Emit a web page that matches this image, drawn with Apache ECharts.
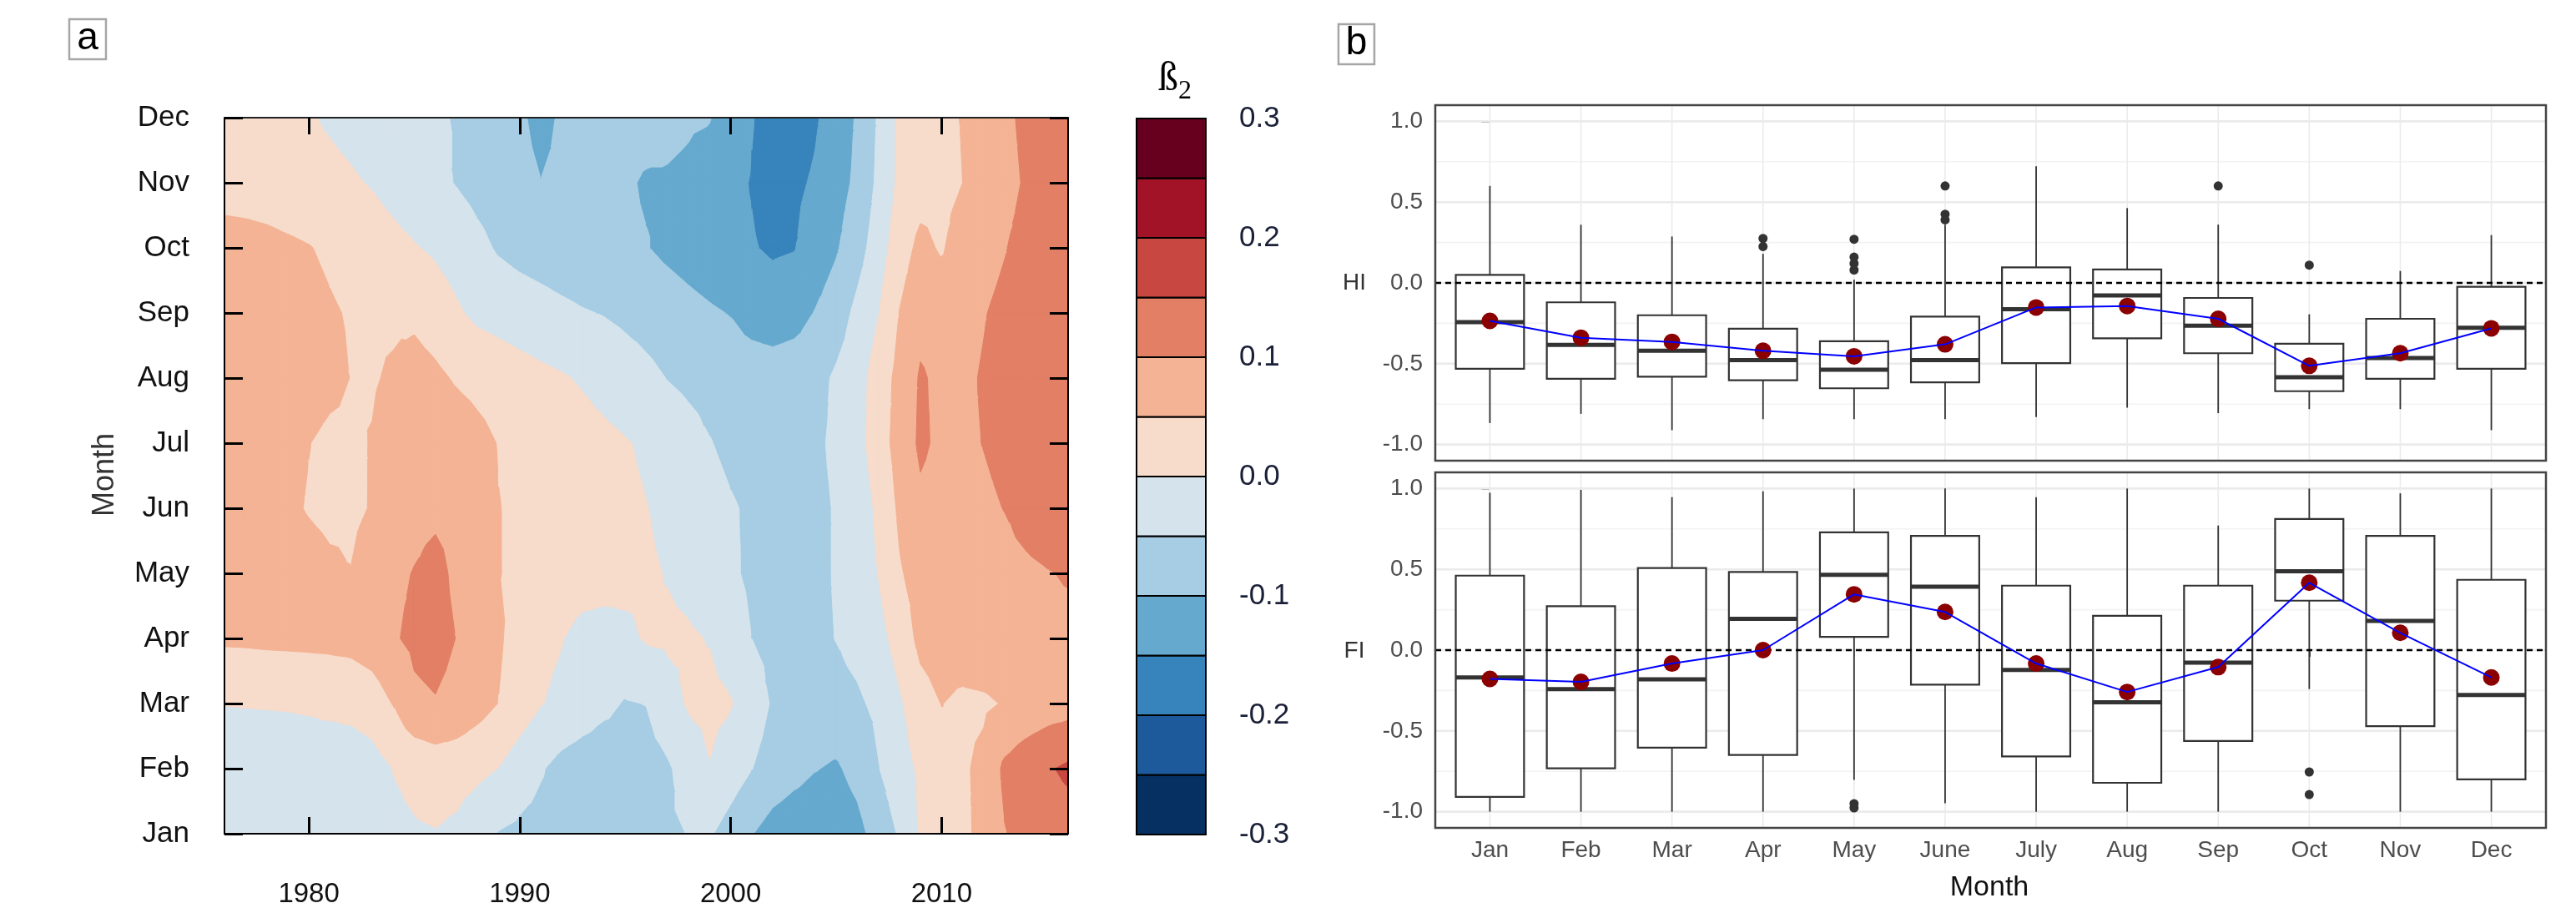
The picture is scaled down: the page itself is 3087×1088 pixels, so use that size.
<!DOCTYPE html>
<html><head><meta charset="utf-8">
<script src="https://cdn.jsdelivr.net/npm/echarts@6/dist/echarts.min.js"></script>
<style>html,body{margin:0;padding:0;background:#fff}#c{width:3087px;height:1088px}</style>
</head><body><div id="c"></div>
<script>
// ---------- Panel a data: beta2 by month (rows) and year (columns) ----------
const years = [1976,1977,1978,1979,1980,1981,1982,1983,1984,1985,1986,1987,1988,1989,1990,1991,1992,1993,1994,1995,1996,1997,1998,1999,2000,2001,2002,2003,2004,2005,2006,2007,2008,2009,2010,2011,2012,2013,2014,2015,2016];
const monthNames = ['Jan','Feb','Mar','Apr','May','Jun','Jul','Aug','Sep','Oct','Nov','Dec'];
const b2_Jan = [-0.025,-0.025,-0.025,-0.025,-0.024,-0.022,-0.019,-0.015,-0.01,-0.005, -0.002,-0.01,-0.035,-0.052,-0.06,-0.065,-0.07,-0.075,-0.075,-0.072, -0.065,-0.056,-0.049,-0.045,-0.07,-0.098,-0.12,-0.13,-0.135,-0.13, -0.115,-0.08,-0.045,0.005,0.025,0.042,0.06,0.098,0.115,0.125,0.13];
const b2_Feb = [-0.025,-0.027,-0.028,-0.028,-0.025,-0.028,-0.03,-0.02,0.001,0.012, 0.022,0.02,0.012,-0.001,-0.025,-0.046,-0.065,-0.075,-0.078,-0.075, -0.068,-0.056,-0.03,-0.002,-0.025,-0.049,-0.07,-0.085,-0.098,-0.106, -0.085,-0.052,-0.02,0.008,0.03,0.043,0.062,0.11,0.13,0.145,0.158];
const b2_Mar = [0.001,0.002,0.003,0.004,0.006,0.01,0.015,0.025,0.052,0.09, 0.097,0.085,0.068,0.049,0.025,0.002,-0.012,-0.025,-0.04,-0.053, -0.049,-0.02,0.005,0.012,0.003,-0.025,-0.055,-0.065,-0.068,-0.065, -0.057,-0.04,-0.007,0.03,0.051,0.04,0.043,0.053,0.065,0.075,0.08];
const b2_Apr = [0.057,0.058,0.06,0.061,0.062,0.063,0.065,0.075,0.095,0.11, 0.118,0.099,0.075,0.056,0.03,0.013,0.002,-0.018,-0.02,-0.01, 0.004,0.007,0.005,-0.002,-0.025,-0.05,-0.062,-0.067,-0.06,-0.049, -0.036,-0.018,0.02,0.063,0.075,0.078,0.082,0.085,0.088,0.09,0.09];
const b2_May = [0.08,0.08,0.078,0.074,0.068,0.058,0.051,0.068,0.09,0.102, 0.115,0.09,0.07,0.051,0.044,0.038,0.032,0.026,0.02,0.013, 0.006,-0.002,-0.012,-0.025,-0.043,-0.058,-0.064,-0.066,-0.06,-0.047, -0.024,0.001,0.045,0.07,0.075,0.078,0.082,0.087,0.092,0.098,0.103];
const b2_Jun = [0.085,0.08,0.07,0.058,0.047,0.04,0.043,0.052,0.07,0.085, 0.09,0.085,0.07,0.051,0.043,0.036,0.029,0.022,0.015,0.008, 0.001,-0.01,-0.022,-0.034,-0.046,-0.056,-0.063,-0.064,-0.06,-0.047, -0.025,0.008,0.058,0.09,0.08,0.086,0.093,0.101,0.115,0.125,0.13];
const b2_Jul = [0.08,0.078,0.072,0.062,0.051,0.04,0.042,0.052,0.07,0.08, 0.085,0.08,0.065,0.048,0.04,0.033,0.026,0.018,0.011,0.003, -0.006,-0.02,-0.033,-0.048,-0.06,-0.068,-0.072,-0.068,-0.058,-0.042, -0.018,0.025,0.07,0.108,0.09,0.093,0.101,0.11,0.12,0.128,0.135];
const b2_Aug = [0.085,0.085,0.082,0.078,0.072,0.062,0.049,0.046,0.056,0.07, 0.06,0.045,0.035,0.027,0.019,0.011,0.004,-0.005,-0.016,-0.027, -0.039,-0.051,-0.06,-0.066,-0.072,-0.075,-0.077,-0.073,-0.066,-0.043, -0.02,0.022,0.065,0.105,0.09,0.093,0.103,0.115,0.125,0.13,0.135];
const b2_Sep = [0.08,0.08,0.078,0.072,0.065,0.055,0.046,0.043,0.042,0.04, 0.025,0.006,-0.01,-0.017,-0.025,-0.032,-0.04,-0.047,-0.052,-0.06, -0.067,-0.075,-0.085,-0.094,-0.102,-0.118,-0.125,-0.118,-0.098,-0.075, -0.038,-0.002,0.051,0.085,0.08,0.088,0.098,0.11,0.12,0.128,0.132];
const b2_Oct = [0.07,0.068,0.064,0.058,0.052,0.042,0.032,0.022,0.013,0.003, -0.007,-0.02,-0.038,-0.055,-0.065,-0.072,-0.078,-0.083,-0.088,-0.093, -0.098,-0.11,-0.12,-0.13,-0.14,-0.147,-0.156,-0.152,-0.13,-0.105, -0.07,-0.025,0.028,0.062,0.045,0.075,0.085,0.098,0.115,0.125,0.13];
const b2_Nov = [0.03,0.028,0.025,0.02,0.016,0.011,0.005,-0.003,-0.015,-0.028, -0.04,-0.052,-0.065,-0.075,-0.085,-0.099,-0.09,-0.088,-0.09,-0.095, -0.104,-0.104,-0.108,-0.12,-0.14,-0.152,-0.165,-0.158,-0.145,-0.12, -0.09,-0.04,0.01,0.03,0.035,0.05,0.065,0.085,0.105,0.12,0.13];
const b2_Dec = [0.035,0.03,0.02,0.012,0.003,-0.005,-0.013,-0.021,-0.029,-0.037, -0.046,-0.052,-0.07,-0.085,-0.092,-0.115,-0.093,-0.09,-0.085,-0.085, -0.085,-0.09,-0.095,-0.098,-0.125,-0.148,-0.165,-0.17,-0.155,-0.13, -0.095,-0.045,0.01,0.025,0.04,0.052,0.07,0.09,0.11,0.125,0.135];
const yearTicks = [1980,1990,2000,2010];
const levels = [-0.3,-0.25,-0.2,-0.15,-0.1,-0.05,0,0.05,0.1,0.15,0.2,0.25,0.3];
const levelLabels = [-0.3,-0.2,-0.1,0,0.1,0.2,0.3];
const bandColors = ['#053061','#1c5a9b','#3783bb','#66a9cf','#a6cde3','#d5e3ec','#f7dbcb','#f4b394','#e27f65','#c94741','#a21328','#67001f'];

// ---------- Panel b data ----------
const boxMonths = ['Jan','Feb','Mar','Apr','May','June','July','Aug','Sep','Oct','Nov','Dec'];
const hiLow  = [-0.867,-0.81,-0.911,-0.843,-0.843,-0.843,-0.83,-0.772,-0.806,-0.781,-0.781,-0.911];
const hiQ1   = [-0.531,-0.593,-0.58,-0.602,-0.652,-0.615,-0.496,-0.343,-0.435,-0.67,-0.593,-0.531];
const hiMed  = [-0.243,-0.383,-0.42,-0.478,-0.537,-0.478,-0.163,-0.078,-0.265,-0.583,-0.465,-0.278];
const hiQ3   = [0.05,-0.12,-0.2,-0.283,-0.361,-0.209,0.096,0.083,-0.093,-0.376,-0.222,-0.024];
const hiHigh = [0.60,0.36,0.287,0.18,0.02,0.36,0.722,0.463,0.361,-0.194,0.074,0.296];
const hiMean = [-0.235,-0.339,-0.365,-0.42,-0.454,-0.38,-0.152,-0.143,-0.222,-0.513,-0.435,-0.281];
const hiOutliers = [[3,0.275],[3,0.225],[4,0.27],[4,0.16],[4,0.12],[4,0.08],[5,0.6],[5,0.425],[5,0.39],[8,0.6],[9,0.11]];
const fiLow  = [-1.0,-1.0,-1.0,-1.0,-0.803,-0.948,-1.0,-1.0,-1.0,-0.241,-1.0,-1.0];
const fiQ1   = [-0.908,-0.731,-0.604,-0.649,0.082,-0.214,-0.658,-0.821,-0.562,0.306,-0.471,-0.8];
const fiMed  = [-0.169,-0.241,-0.181,0.194,0.466,0.393,-0.123,-0.323,-0.078,0.488,0.181,-0.277];
const fiQ3   = [0.461,0.272,0.508,0.484,0.729,0.707,0.399,0.212,0.399,0.811,0.707,0.435];
const fiHigh = [0.974,0.992,0.947,0.983,1.0,1.0,0.947,1.0,0.771,1.0,0.97,1.0];
const fiMean = [-0.178,-0.196,-0.083,0.0,0.345,0.236,-0.083,-0.259,-0.105,0.417,0.107,-0.169];
const fiOutliers = [[4,-0.95],[4,-0.976],[9,-0.754],[9,-0.894]];
const yTickVals = [-1,-0.5,0,0.5,1];
const yMinorVals = [-0.75,-0.25,0.25,0.75];

// ---------- helpers ----------
const fontReg = "'Liberation Sans', Arial, Helvetica, sans-serif";
const fontNarrow = "'Liberation Sans Narrow','Arial Narrow','Liberation Sans',Arial,sans-serif";
const valueGrid = [b2_Jan,b2_Feb,b2_Mar,b2_Apr,b2_May,b2_Jun,b2_Jul,b2_Aug,b2_Sep,b2_Oct,b2_Nov,b2_Dec];

function clip(poly, t, keepAbove) {
  const out = [];
  for (let a = 0; a < poly.length; a++) {
    const P = poly[a], Q = poly[(a + 1) % poly.length];
    const fp = keepAbove ? P[2] - t : t - P[2];
    const fq = keepAbove ? Q[2] - t : t - Q[2];
    if (fp >= 0) out.push(P);
    if ((fp >= 0) !== (fq >= 0)) {
      const r = fp / (fp - fq);
      out.push([P[0] + r * (Q[0] - P[0]), P[1] + r * (Q[1] - P[1]), P[2] + r * (Q[2] - P[2])]);
    }
  }
  return out;
}
const cellData = [];
for (let j = 0; j < monthNames.length - 1; j++) for (let i = 0; i < years.length - 1; i++) cellData.push([i, j]);

function renderCell(params, api) {
  const i = api.value(0), j = api.value(1);
  const pt = (ii, jj) => { const c = api.coord([years[ii], jj + 1]); return [c[0], c[1], valueGrid[jj][ii]]; };
  const a = pt(i, j), b = pt(i + 1, j), c = pt(i + 1, j + 1), d = pt(i, j + 1);
  const m = [(a[0] + c[0]) / 2, (a[1] + c[1]) / 2, (a[2] + b[2] + c[2] + d[2]) / 4];
  const tris = [[a, b, m], [b, c, m], [c, d, m], [d, a, m]];
  const children = [];
  const nb = bandColors.length;
  for (const t of tris) {
    const vmin = Math.min(t[0][2], t[1][2], t[2][2]), vmax = Math.max(t[0][2], t[1][2], t[2][2]);
    for (let k = 0; k < nb; k++) {
      const lo = levels[k], hi = levels[k + 1];
      if ((k > 0 && vmax < lo) || (k < nb - 1 && vmin > hi)) continue;
      let poly = t;
      if (k > 0) poly = clip(poly, lo, true);
      if (poly.length < 3) continue;
      if (k < nb - 1) poly = clip(poly, hi, false);
      if (poly.length < 3) continue;
      children.push({ type: 'polygon', shape: { points: poly.map(p => [p[0], p[1]]) },
        style: { fill: bandColors[k], stroke: bandColors[k], lineWidth: 1 } });
    }
  }
  return { type: 'group', children };
}
function renderBand(params, api) {
  const k = api.value(0);
  const p1 = api.coord([0, levels[k]]), p2 = api.coord([1, levels[k + 1]]);
  return { type: 'rect', shape: { x: p1[0], y: p2[1], width: p2[0] - p1[0], height: p1[1] - p2[1] },
    style: { fill: bandColors[k], stroke: '#000', lineWidth: 2 } };
}
function renderBox(params, api) {
  const x = api.value(0);
  const pLo = api.coord([x, api.value(1)]), pQ1 = api.coord([x, api.value(2)]), pMd = api.coord([x, api.value(3)]);
  const pQ3 = api.coord([x, api.value(4)]), pHi = api.coord([x, api.value(5)]);
  const w = api.size([0.75, 0])[0];
  const cx = pMd[0];
  const ln = { stroke: '#333', lineWidth: 1.8 };
  return { type: 'group', children: [
    { type: 'line', shape: { x1: cx, y1: pHi[1], x2: cx, y2: pQ3[1] }, style: ln },
    { type: 'line', shape: { x1: cx, y1: pQ1[1], x2: cx, y2: pLo[1] }, style: ln },
    { type: 'rect', shape: { x: cx - w / 2, y: pQ3[1], width: w, height: pQ1[1] - pQ3[1] }, style: { fill: '#fff', stroke: '#333', lineWidth: 2.2 } },
    { type: 'line', shape: { x1: cx - w / 2, y1: pMd[1], x2: cx + w / 2, y2: pMd[1] }, style: { stroke: '#333', lineWidth: 5 } }
  ] };
}
function renderHLine(params, api) {
  const v = api.value(0), major = api.value(1);
  const p1 = api.coord([-0.6, v]), p2 = api.coord([11.6, v]);
  return { type: 'line', shape: { x1: p1[0], y1: p1[1], x2: p2[0], y2: p2[1] },
    style: { stroke: major ? '#ebebeb' : '#f3f3f3', lineWidth: major ? 2.6 : 1.6 } };
}
function renderVLine(params, api) {
  const k = api.value(0);
  const p1 = api.coord([k, -1.1]), p2 = api.coord([k, 1.1]);
  return { type: 'line', shape: { x1: p1[0], y1: p1[1], x2: p2[0], y2: p2[1] }, style: { stroke: '#ebebeb', lineWidth: 1.6 } };
}
const hData = yTickVals.map(v => [v, 1]).concat(yMinorVals.map(v => [v, 0]));
const vData = boxMonths.map((m, k) => [k]);
const hiBoxes = boxMonths.map((m, k) => [k, hiLow[k], hiQ1[k], hiMed[k], hiQ3[k], hiHigh[k]]);
const fiBoxes = boxMonths.map((m, k) => [k, fiLow[k], fiQ1[k], fiMed[k], fiQ3[k], fiHigh[k]]);
const monthIdx = boxMonths.map((m, k) => k);

function boxYAxis(gi) {
  return { type: 'value', gridIndex: gi, min: -1.1, max: 1.1, axisLine: { show: false }, splitLine: { show: false },
    axisTick: { show: true, customValues: yTickVals, length: 10, lineStyle: { color: '#333', width: 2 } },
    axisLabel: { customValues: yTickVals, formatter: v => v.toFixed(1), color: '#4d4d4d', fontSize: 28, fontFamily: fontNarrow, margin: 15 } };
}
function panelSeries(xi, boxes, outliers, means) {
  return [
    { type: 'custom', xAxisIndex: xi, yAxisIndex: xi, data: hData, renderItem: renderHLine, z: 1, silent: true },
    { type: 'custom', xAxisIndex: xi, yAxisIndex: xi, data: vData, renderItem: renderVLine, z: 1, silent: true },
    { type: 'custom', xAxisIndex: xi, yAxisIndex: xi, data: boxes, renderItem: renderBox, z: 3, silent: true },
    { type: 'scatter', xAxisIndex: xi, yAxisIndex: xi, data: outliers, symbolSize: 11, itemStyle: { color: '#333', opacity: 1 }, z: 4, silent: true },
    { type: 'line', xAxisIndex: xi, yAxisIndex: xi, data: [[-0.6, 0], [11.6, 0]], symbol: 'none', lineStyle: { color: '#000', width: 2.4, type: [7, 5] }, z: 5, silent: true },
    { type: 'scatter', xAxisIndex: xi, yAxisIndex: xi, data: means.map((v, k) => [k, v]), symbolSize: 20, itemStyle: { color: '#8b0000', opacity: 1 }, z: 6, silent: true },
    { type: 'line', xAxisIndex: xi, yAxisIndex: xi, data: means.map((v, k) => [k, v]), symbol: 'none', lineStyle: { color: '#0000ff', width: 2 }, z: 7, silent: true }
  ];
}

const chart = echarts.init(document.getElementById('c'), null, { renderer: 'canvas' });
chart.setOption({
  animation: false,
  backgroundColor: '#fff',
  textStyle: { fontFamily: fontReg },
  grid: [
    { left: 269, top: 141, width: 1011, height: 858, outerBoundsMode: 'none' },
    { left: 1362, top: 142, width: 83, height: 858, outerBoundsMode: 'none' },
    { left: 1720, top: 126, width: 1331, height: 426, outerBoundsMode: 'none', show: true, backgroundColor: '#fff', borderWidth: 0 },
    { left: 1720, top: 566, width: 1331, height: 426, outerBoundsMode: 'none', show: true, backgroundColor: '#fff', borderWidth: 0 }
  ],
  xAxis: [
    { type: 'value', gridIndex: 0, min: 1976, max: 2016, z: 10, position: 'bottom',
      axisLine: { onZero: false, lineStyle: { color: '#000', width: 2 } }, splitLine: { show: false },
      axisTick: { inside: true, length: 20, customValues: yearTicks, lineStyle: { color: '#000', width: 3 } },
      axisLabel: { customValues: yearTicks, formatter: v => String(Math.round(v)), color: '#111', fontSize: 33, fontFamily: fontNarrow, margin: 56 } },
    { type: 'value', gridIndex: 0, min: 1976, max: 2016, z: 10, position: 'top',
      axisLine: { onZero: false, lineStyle: { color: '#222', width: 2 } }, splitLine: { show: false },
      axisTick: { inside: true, length: 20, customValues: yearTicks, lineStyle: { color: '#000', width: 3 } },
      axisLabel: { show: false } },
    { type: 'value', gridIndex: 1, min: 0, max: 1, show: false },
    { type: 'value', gridIndex: 2, min: -0.6, max: 11.6, axisLine: { show: false }, axisTick: { show: false }, axisLabel: { show: false }, splitLine: { show: false } },
    { type: 'value', gridIndex: 3, min: -0.6, max: 11.6, axisLine: { show: false }, splitLine: { show: false },
      axisTick: { show: true, customValues: monthIdx, length: 8, lineStyle: { color: '#333', width: 2 } },
      axisLabel: { customValues: monthIdx, formatter: v => boxMonths[Math.round(v)], color: '#4d4d4d', fontSize: 28, fontFamily: fontNarrow, margin: 13 } }
  ],
  yAxis: [
    { type: 'value', gridIndex: 0, min: 1, max: 12, interval: 1, z: 10, position: 'left',
      axisLine: { onZero: false, lineStyle: { color: '#000', width: 2 } }, splitLine: { show: false },
      axisTick: { inside: true, length: 22, lineStyle: { color: '#000', width: 3 } },
      axisLabel: { formatter: v => monthNames[Math.round(v) - 1], color: '#111', fontSize: 35, fontFamily: fontReg, margin: 42 } },
    { type: 'value', gridIndex: 0, min: 1, max: 12, interval: 1, z: 10, position: 'right',
      axisLine: { onZero: false, lineStyle: { color: '#000', width: 2 } }, splitLine: { show: false },
      axisTick: { inside: true, length: 22, lineStyle: { color: '#000', width: 3 } },
      axisLabel: { show: false } },
    { type: 'value', gridIndex: 1, min: -0.3, max: 0.3, position: 'right', axisLine: { show: false }, splitLine: { show: false },
      axisTick: { show: true, customValues: levelLabels, length: 20, lineStyle: { color: '#000', width: 2 } },
      axisLabel: { customValues: levelLabels, formatter: v => v.toFixed(1), color: '#1a2038', fontSize: 35, fontFamily: fontReg, margin: 40 } },
    boxYAxis(2),
    boxYAxis(3)
  ],
  series: [
    { type: 'custom', xAxisIndex: 0, yAxisIndex: 0, data: cellData, renderItem: renderCell, clip: true, silent: true, z: 2 },
    { type: 'custom', xAxisIndex: 2, yAxisIndex: 2, data: bandColors.map((c, k) => [k]), renderItem: renderBand, silent: true, z: 2 }
  ].concat(panelSeries(3, hiBoxes, hiOutliers, hiMean), panelSeries(4, fiBoxes, fiOutliers, fiMean)),
  graphic: { elements: [
    { type: 'rect', z: 100, shape: { x: 83, y: 23, width: 44, height: 48 }, style: { fill: '#fff', stroke: '#a6a6a6', lineWidth: 2.5 } },
    { type: 'text', z: 101, x: 105, y: 46, style: { text: 'a', fontSize: 46, fontFamily: fontReg, fill: '#000', align: 'center', verticalAlign: 'middle' } },
    { type: 'rect', z: 100, shape: { x: 1604, y: 29, width: 43, height: 48 }, style: { fill: '#fff', stroke: '#a6a6a6', lineWidth: 2.5 } },
    { type: 'text', z: 101, x: 1625.5, y: 52, style: { text: 'b', fontSize: 46, fontFamily: fontReg, fill: '#000', align: 'center', verticalAlign: 'middle' } },
    { type: 'text', z: 101, x: 126, y: 569, rotation: Math.PI / 2, style: { text: 'Month', fontSize: 36, fontFamily: fontReg, fill: '#333', align: 'center', verticalAlign: 'middle' } },
    { type: 'text', z: 101, x: 1400, y: 95, style: { text: 'ß', fontSize: 48, fontFamily: "'Liberation Serif','DejaVu Serif',serif", fill: '#000', align: 'center', verticalAlign: 'middle' } },
    { type: 'text', z: 101, x: 1420, y: 110, style: { text: '2', fontSize: 32, fontFamily: "'Liberation Serif','DejaVu Serif',serif", fill: '#000', align: 'center', verticalAlign: 'middle' } },
    { type: 'text', z: 101, x: 1623, y: 339, style: { text: 'HI', fontSize: 28, fontFamily: fontNarrow, fill: '#333', align: 'center', verticalAlign: 'middle' } },
    { type: 'text', z: 101, x: 1623, y: 780, style: { text: 'FI', fontSize: 28, fontFamily: fontNarrow, fill: '#333', align: 'center', verticalAlign: 'middle' } },
    { type: 'text', z: 101, x: 2384, y: 1064, style: { text: 'Month', fontSize: 34, fontFamily: fontNarrow, fill: '#111', align: 'center', verticalAlign: 'middle' } },
    { type: 'rect', z: 100, shape: { x: 1720, y: 126, width: 1331, height: 426 }, style: { fill: 'none', stroke: '#444', lineWidth: 2.5 } },
    { type: 'rect', z: 100, shape: { x: 1720, y: 566, width: 1331, height: 426 }, style: { fill: 'none', stroke: '#444', lineWidth: 2.5 } }
  ] }
});
</script></body></html>
